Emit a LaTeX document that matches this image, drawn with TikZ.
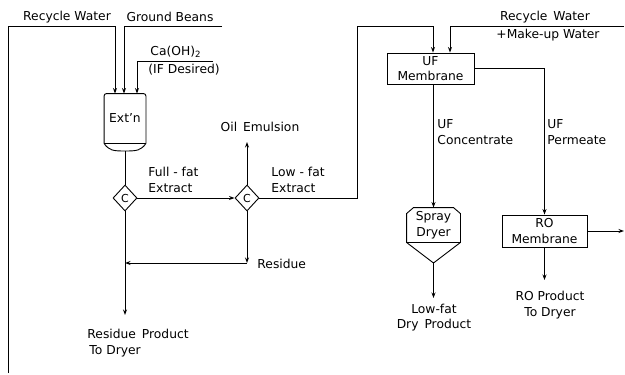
\documentclass[tikz,border=0pt]{standalone}
\usepackage{fontspec}
\setmainfont{DejaVu Sans}
\usetikzlibrary{arrows.meta,shapes.geometric}
\begin{document}
\begin{tikzpicture}[x=1pt,y=-1pt,
  line width=0.9pt,
  arr/.style={-{Stealth[length=5.5pt,width=4pt]}},
  lab/.style={font=\fontsize{12.3}{15.5}\selectfont, inner sep=0pt, align=left},
  clab/.style={lab, align=center},
  box/.style={draw, rectangle, inner sep=0pt, font=\fontsize{12.3}{15.5}\selectfont, align=center},
  cent/.style={draw, diamond, minimum width=24pt, minimum height=26pt, inner sep=0pt, font=\fontsize{11}{12}\selectfont}
]
\useasboundingbox (0,0) rectangle (625,375);

% --- extractor
\node[lab, minimum width=41pt, minimum height=49pt] (ext) at (125,118.5) {Ext'n};
\draw[rounded corners=2.5pt] (ext.south west) -- (ext.north west) -- (ext.north east) -- (ext.south east);
\draw (ext.south west) -- (ext.south east);
\coordinate (extbot) at (125,151);
\draw (ext.south west) .. controls +(5,7) and +(-12,0) .. (extbot) .. controls +(12,0) and +(-5,7) .. (ext.south east);

% --- centrifuges
\node[cent] (c1) at (125,198) {C};
\node[cent] (c2) at (247,198) {C};

% --- UF membrane
\node[box, minimum width=87pt, minimum height=31pt] (uf) at (430.5,68.5) {UF\\Membrane};

% --- spray dryer
\node[clab, minimum width=53pt, minimum height=34pt] (spray) at (433.5,225) {Spray\\Dryer};
\draw (spray.south west) -- ([shift={(0,6)}]spray.north west) -- ([shift={(7,0)}]spray.north west)
  -- ([shift={(-7,0)}]spray.north east) -- ([shift={(0,6)}]spray.north east) -- (spray.south east) -- cycle;
\coordinate (spraytip) at (433.5,263);
\draw (spray.south west) -- (spraytip) -- (spray.south east);

% --- RO membrane
\node[box, minimum width=85pt, minimum height=32pt] (ro) at (544.5,231) {RO\\Membrane};

% --- feeds
\coordinate (lb) at (8,373);
\coordinate (rw) at (115,26);
\draw[arr] (lb) |- (rw) -- (rw |- ext.north);
\coordinate (gbR) at (222,26);
\coordinate (gb) at (124,26);
\draw[arr] (gbR) -- (gb) -- (gb |- ext.north);
\coordinate (caR) at (213,61);
\coordinate (ca) at (137,61);
\draw[arr] (caR) -- (ca) -- (ca |- ext.north);

\draw (extbot) -- (c1.north);
\draw[arr] (c1.east) -- (c2.west);
\coordinate (oil) at (247,142);
\draw[arr] (c2.north) -- (oil);

\coordinate (lf1) at (357,26);
\coordinate (lf2) at (433,26);
\draw[arr] (c2.east) -| (lf1) -- (lf2) -- (lf2 |- uf.north);
\coordinate (rwR) at (624,26);
\coordinate (rw2) at (450,26);
\draw[arr] (rwR) -- (rw2) -- (rw2 |- uf.north);

\draw[arr] (uf.south -| spray.north) -- (spray.north);
\draw[arr] (uf.east) -| (ro.north);
\coordinate (roout) at (624,231);
\draw[arr] (ro.east) -- (roout);
\coordinate (rop) at (544.5,280);
\draw[arr] (ro.south) -- (rop);
\coordinate (lfp) at (433.5,298);
\draw[arr] (spraytip) -- (lfp);

\coordinate (rs) at (247,263);
\coordinate (rs2) at (125,263);
\draw[arr] (c2.south) -- (rs);
\draw[arr] (rs) -- (rs2);
\coordinate (rp) at (125,315);
\draw[arr] (c1.south) -- (rp);

% --- labels
\node[lab] (t1) at (67,17) {Recycle Water};
\node[lab] (t2) at (170,17) {Ground Beans};
\node[lab, anchor=west] (t3) at (150,52) {Ca(OH)\textsubscript{2}};
\node[lab, anchor=west] (t4) at (148,70) {(IF Desired)};
\node[lab] (t5) at (260,127) {Oil\,\ Emulsion};
\node[lab, anchor=west] (t6) at (148,180) {Full - fat\\Extract};
\node[lab, anchor=west] (t7) at (271,180) {Low - fat\\Extract};
\node[lab, anchor=west] (t8) at (257,264) {Residue};
\node[lab, anchor=west] (t9) at (87,343) {Residue\,\ Product\\\,To Dryer};
\node[lab, anchor=west] (t10) at (437,132) {UF\\Concentrate};
\node[lab, anchor=west] (t11) at (547,132) {UF\\Permeate};
\node[lab] (t12) at (545,17) {Recycle\,\ Water};
\node[lab] (t13) at (548,35) {+Make-up Water};
\node[clab] (t14) at (434,317.5) {Low-fat\\Dry\,\ Product};
\node[clab] (t15) at (550,305) {RO Product\\To Dryer};
\end{tikzpicture}
\end{document}
